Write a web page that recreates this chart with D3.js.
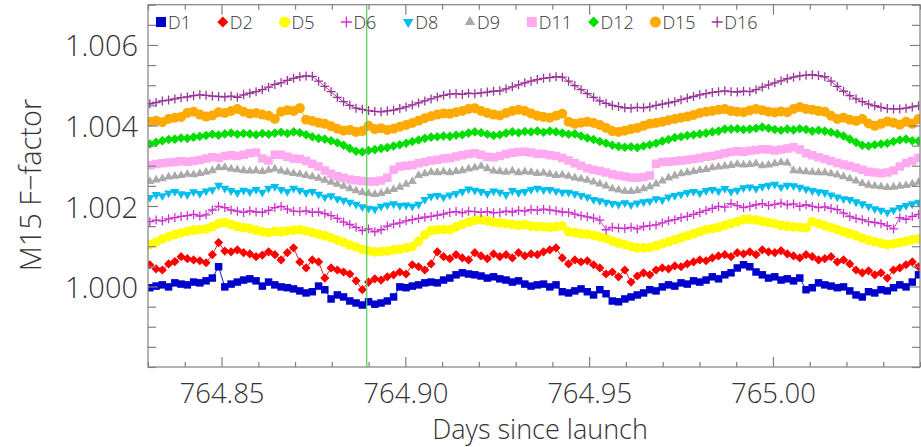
<!DOCTYPE html>
<html>
<head>
<meta charset="utf-8">
<script src="https://cdn.jsdelivr.net/npm/d3@7"></script>
<style>
  html, body { margin: 0; padding: 0; background: #ffffff; }
  svg { display: block; }
  text { font-family: "Open Sans", "Liberation Sans", Arial, sans-serif; font-weight: 300; fill: #333333; }
</style>
</head>
<body>
<svg id="chart" width="921" height="447"></svg>
<script>
// Sampling of the detector series: first sample time and cadence (days)
const t0 = 764.8305;
const cadence = 0.0017;

// M15 F-factor per detector
const D1 = [0.99997,1.00001,1.00004,0.99999,1.00009,1.00006,1.00004,1.00011,1.00009,1.00014,
  1.00021,1.00049,0.99999,1.00006,1.00011,1.00016,1.00019,1.00014,1.00001,1.00011,
  1.00004,0.99999,0.99997,0.99994,0.99989,0.99984,0.99987,1.00001,0.99992,0.99969,
  0.99979,0.99974,0.99964,0.99959,0.99954,0.99962,0.99956,0.99959,0.99964,0.99974,
  0.99999,0.99997,1.00001,1.00004,1.00009,1.00011,1.00009,1.00016,1.00021,1.00029,
  1.00034,1.00031,1.00029,1.00026,1.00021,1.00024,1.00019,1.00016,1.00011,1.00014,
  1.00006,1.00001,1.00004,1.00006,0.99999,1.00004,0.99987,0.99984,0.99989,0.99994,
  0.99987,0.99979,0.99992,0.99982,0.99964,0.99962,0.99969,0.99974,0.99979,0.99984,
  0.99992,0.99989,0.99999,1.00004,1.00001,1.00009,1.00006,1.00014,1.00011,1.00016,
  1.00024,1.00019,1.00029,1.00034,1.00046,1.00054,1.00049,1.00036,1.00029,1.00021,
  1.00024,1.00016,1.00019,1.00014,1.00021,0.99992,0.99997,1.00009,1.00004,1.00001,
  0.99997,0.99999,0.99989,0.99979,0.99974,0.99987,0.99984,0.99992,0.99989,0.99997,
  1.00004,0.99999,1.00011,1.00029];

const D2 = [1.00054,1.00044,1.00041,1.00056,1.00062,1.00074,1.00069,1.00066,1.00064,1.00059,
  1.00079,1.00109,1.00088,1.00086,1.00091,1.00084,1.00081,1.00074,1.00078,1.00086,
  1.00079,1.00066,1.00084,1.00096,1.00061,1.00046,1.00066,1.00061,1.00021,1.00046,
  1.00041,1.00036,1.00031,1.00014,0.99992,1.00011,1.00019,1.00016,1.00024,1.00029,
  1.00036,1.00031,1.00054,1.00049,1.00041,1.00056,1.00086,1.00074,1.00069,1.00079,
  1.00071,1.00066,1.00084,1.00076,1.00069,1.00081,1.00074,1.00079,1.00071,1.00084,
  1.00076,1.00081,1.00079,1.00086,1.00091,1.00096,1.00071,1.00056,1.00066,1.00061,
  1.00064,1.00054,1.00046,1.00031,1.00036,1.00024,1.00041,1.00011,1.00026,1.00034,
  1.00029,1.00041,1.00046,1.00044,1.00051,1.00049,1.00056,1.00061,1.00066,1.00064,
  1.00071,1.00076,1.00079,1.00074,1.00084,1.00081,1.00086,1.00079,1.00091,1.00086,
  1.00084,1.00089,1.00081,1.00076,1.00071,1.00079,1.00074,1.00066,1.00069,1.00074,
  1.00061,1.00066,1.00056,1.00041,1.00034,1.00039,1.00029,1.00034,1.00021,1.00041,
  1.00046,1.00054,1.00061,1.00049];

const D5 = [1.00104,1.00110,1.00118,1.00124,1.00129,1.00133,1.00137,1.00140,1.00141,1.00143,
  1.00148,1.00156,1.00159,1.00154,1.00149,1.00146,1.00144,1.00140,1.00136,1.00134,
  1.00137,1.00136,1.00138,1.00140,1.00141,1.00138,1.00134,1.00130,1.00126,1.00121,
  1.00115,1.00110,1.00103,1.00098,1.00092,1.00088,1.00086,1.00087,1.00088,1.00091,
  1.00093,1.00096,1.00099,1.00112,1.00128,1.00139,1.00141,1.00142,1.00141,1.00148,
  1.00154,1.00160,1.00164,1.00166,1.00163,1.00160,1.00158,1.00156,1.00154,1.00152,
  1.00154,1.00150,1.00149,1.00148,1.00147,1.00149,1.00150,1.00136,1.00134,1.00131,
  1.00130,1.00127,1.00123,1.00119,1.00113,1.00108,1.00104,1.00099,1.00096,1.00096,
  1.00097,1.00101,1.00106,1.00111,1.00116,1.00121,1.00126,1.00131,1.00136,1.00141,
  1.00144,1.00147,1.00152,1.00156,1.00161,1.00166,1.00167,1.00165,1.00162,1.00159,
  1.00156,1.00152,1.00150,1.00148,1.00147,1.00146,1.00161,1.00156,1.00151,1.00146,
  1.00141,1.00136,1.00131,1.00126,1.00120,1.00115,1.00111,1.00107,1.00104,1.00106,
  1.00109,1.00112,1.00116,1.00118];

const D6 = [1.00161,1.00165,1.00163,1.00168,1.00171,1.00174,1.00176,1.00179,1.00175,1.00178,
  1.00190,1.00199,1.00196,1.00190,1.00187,1.00184,1.00188,1.00185,1.00184,1.00189,
  1.00196,1.00199,1.00192,1.00187,1.00186,1.00188,1.00184,1.00185,1.00181,1.00176,
  1.00169,1.00160,1.00154,1.00147,1.00139,1.00143,1.00136,1.00141,1.00150,1.00155,
  1.00158,1.00163,1.00166,1.00169,1.00172,1.00174,1.00177,1.00180,1.00184,1.00186,
  1.00183,1.00187,1.00186,1.00184,1.00186,1.00183,1.00184,1.00187,1.00185,1.00189,
  1.00187,1.00191,1.00189,1.00192,1.00190,1.00188,1.00185,1.00184,1.00180,1.00176,
  1.00173,1.00170,1.00165,1.00141,1.00147,1.00145,1.00144,1.00147,1.00143,1.00149,
  1.00151,1.00153,1.00158,1.00163,1.00166,1.00171,1.00174,1.00179,1.00184,1.00189,
  1.00194,1.00199,1.00197,1.00206,1.00201,1.00196,1.00199,1.00203,1.00206,1.00201,
  1.00204,1.00207,1.00203,1.00205,1.00199,1.00203,1.00199,1.00196,1.00198,1.00194,
  1.00191,1.00182,1.00174,1.00169,1.00166,1.00161,1.00159,1.00156,1.00151,1.00143,
  1.00171,1.00167,1.00174,1.00179];

const D8 = [1.00221,1.00228,1.00225,1.00232,1.00236,1.00230,1.00228,1.00235,1.00231,1.00237,
  1.00240,1.00251,1.00244,1.00238,1.00233,1.00239,1.00235,1.00241,1.00234,1.00244,
  1.00248,1.00241,1.00236,1.00244,1.00239,1.00233,1.00236,1.00229,1.00222,1.00225,
  1.00218,1.00214,1.00209,1.00204,1.00198,1.00194,1.00192,1.00199,1.00202,1.00205,
  1.00201,1.00202,1.00199,1.00204,1.00216,1.00224,1.00226,1.00222,1.00227,1.00231,
  1.00236,1.00242,1.00239,1.00236,1.00231,1.00237,1.00234,1.00228,1.00238,1.00233,
  1.00236,1.00241,1.00244,1.00240,1.00241,1.00237,1.00234,1.00234,1.00230,1.00226,
  1.00222,1.00216,1.00213,1.00209,1.00206,1.00204,1.00208,1.00203,1.00207,1.00210,
  1.00212,1.00218,1.00215,1.00222,1.00226,1.00229,1.00233,1.00236,1.00232,1.00238,
  1.00241,1.00237,1.00243,1.00236,1.00239,1.00245,1.00247,1.00243,1.00248,1.00251,
  1.00254,1.00247,1.00251,1.00250,1.00246,1.00242,1.00238,1.00235,1.00233,1.00227,
  1.00222,1.00218,1.00216,1.00210,1.00205,1.00199,1.00193,1.00189,1.00184,1.00190,
  1.00196,1.00201,1.00205,1.00209];

const D9 = [1.00261,1.00265,1.00268,1.00272,1.00274,1.00276,1.00279,1.00278,1.00281,1.00284,
  1.00288,1.00295,1.00296,1.00292,1.00290,1.00288,1.00287,1.00288,1.00286,1.00289,
  1.00292,1.00287,1.00284,1.00281,1.00279,1.00276,1.00273,1.00269,1.00264,1.00259,
  1.00254,1.00249,1.00243,1.00238,1.00234,1.00231,1.00229,1.00231,1.00236,1.00241,
  1.00247,1.00254,1.00261,1.00276,1.00280,1.00284,1.00283,1.00285,1.00283,1.00286,
  1.00288,1.00292,1.00295,1.00299,1.00293,1.00287,1.00286,1.00284,1.00287,1.00283,
  1.00285,1.00284,1.00281,1.00282,1.00279,1.00276,1.00277,1.00274,1.00270,1.00267,
  1.00264,1.00260,1.00255,1.00250,1.00243,1.00240,1.00237,1.00236,1.00238,1.00243,
  1.00248,1.00255,1.00262,1.00270,1.00275,1.00280,1.00283,1.00286,1.00289,1.00291,
  1.00295,1.00297,1.00299,1.00301,1.00304,1.00302,1.00303,1.00305,1.00300,1.00302,
  1.00305,1.00308,1.00307,1.00288,1.00287,1.00285,1.00284,1.00283,1.00283,1.00280,
  1.00277,1.00273,1.00268,1.00262,1.00256,1.00252,1.00250,1.00248,1.00246,1.00247,
  1.00249,1.00251,1.00255,1.00259];

const D11 = [1.00301,1.00304,1.00306,1.00308,1.00309,1.00311,1.00310,1.00312,1.00314,1.00318,
  1.00321,1.00320,1.00324,1.00326,1.00324,1.00327,1.00331,1.00333,1.00318,1.00313,
  1.00327,1.00327,1.00322,1.00318,1.00317,1.00312,1.00305,1.00298,1.00288,1.00280,
  1.00274,1.00270,1.00266,1.00264,1.00262,1.00261,1.00261,1.00263,1.00270,1.00290,
  1.00298,1.00300,1.00302,1.00306,1.00309,1.00313,1.00315,1.00318,1.00319,1.00323,
  1.00326,1.00329,1.00331,1.00327,1.00322,1.00321,1.00324,1.00329,1.00332,1.00334,
  1.00335,1.00333,1.00330,1.00329,1.00326,1.00324,1.00319,1.00313,1.00306,1.00300,
  1.00294,1.00290,1.00287,1.00283,1.00279,1.00276,1.00273,1.00271,1.00270,1.00272,
  1.00276,1.00305,1.00309,1.00310,1.00311,1.00313,1.00315,1.00317,1.00319,1.00322,
  1.00324,1.00327,1.00331,1.00334,1.00336,1.00335,1.00337,1.00339,1.00341,1.00340,
  1.00338,1.00340,1.00343,1.00346,1.00340,1.00331,1.00326,1.00321,1.00317,1.00312,
  1.00307,1.00303,1.00299,1.00295,1.00290,1.00285,1.00283,1.00281,1.00283,1.00288,
  1.00298,1.00307,1.00312,1.00319];

const D12 = [1.00354,1.00358,1.00362,1.00365,1.00366,1.00369,1.00368,1.00371,1.00373,1.00375,
  1.00378,1.00376,1.00379,1.00381,1.00378,1.00380,1.00379,1.00377,1.00380,1.00378,
  1.00381,1.00383,1.00380,1.00384,1.00382,1.00377,1.00372,1.00368,1.00366,1.00362,
  1.00357,1.00351,1.00343,1.00336,1.00334,1.00338,1.00340,1.00343,1.00345,1.00349,
  1.00352,1.00356,1.00360,1.00364,1.00368,1.00371,1.00372,1.00374,1.00373,1.00376,
  1.00377,1.00381,1.00384,1.00382,1.00378,1.00375,1.00377,1.00381,1.00384,1.00382,
  1.00385,1.00384,1.00386,1.00383,1.00386,1.00384,1.00381,1.00378,1.00379,1.00374,
  1.00369,1.00365,1.00360,1.00356,1.00351,1.00348,1.00346,1.00347,1.00345,1.00349,
  1.00352,1.00356,1.00361,1.00365,1.00370,1.00372,1.00375,1.00377,1.00379,1.00381,
  1.00384,1.00386,1.00391,1.00391,1.00392,1.00390,1.00391,1.00393,1.00396,1.00393,
  1.00390,1.00388,1.00391,1.00389,1.00392,1.00390,1.00386,1.00388,1.00386,1.00383,
  1.00379,1.00374,1.00366,1.00358,1.00351,1.00349,1.00352,1.00354,1.00356,1.00360,
  1.00364,1.00366,1.00362,1.00361];

const D15 = [1.00409,1.00412,1.00408,1.00416,1.00419,1.00421,1.00431,1.00434,1.00427,1.00422,
  1.00425,1.00433,1.00431,1.00436,1.00441,1.00434,1.00429,1.00431,1.00427,1.00424,
  1.00416,1.00434,1.00438,1.00436,1.00443,1.00414,1.00411,1.00407,1.00404,1.00398,
  1.00392,1.00387,1.00389,1.00384,1.00386,1.00399,1.00391,1.00393,1.00389,1.00392,
  1.00397,1.00401,1.00406,1.00412,1.00418,1.00423,1.00427,1.00430,1.00429,1.00433,
  1.00436,1.00441,1.00443,1.00436,1.00431,1.00427,1.00425,1.00431,1.00436,1.00439,
  1.00436,1.00430,1.00424,1.00421,1.00419,1.00424,1.00429,1.00409,1.00404,1.00407,
  1.00409,1.00406,1.00401,1.00394,1.00386,1.00384,1.00387,1.00391,1.00394,1.00399,
  1.00404,1.00406,1.00409,1.00413,1.00416,1.00419,1.00422,1.00426,1.00431,1.00434,
  1.00436,1.00439,1.00441,1.00436,1.00434,1.00433,1.00437,1.00441,1.00438,1.00434,
  1.00432,1.00435,1.00433,1.00441,1.00446,1.00441,1.00439,1.00436,1.00434,1.00424,
  1.00416,1.00419,1.00414,1.00411,1.00416,1.00405,1.00399,1.00404,1.00410,1.00407,
  1.00402,1.00409,1.00404,1.00416];

const D16 = [1.00454,1.00457,1.00461,1.00463,1.00466,1.00469,1.00471,1.00474,1.00476,1.00475,
  1.00473,1.00472,1.00471,1.00473,1.00470,1.00476,1.00480,1.00484,1.00489,1.00495,
  1.00502,1.00506,1.00512,1.00517,1.00521,1.00523,1.00522,1.00510,1.00497,1.00484,
  1.00470,1.00459,1.00450,1.00443,1.00440,1.00437,1.00435,1.00434,1.00436,1.00438,
  1.00442,1.00446,1.00451,1.00456,1.00461,1.00466,1.00471,1.00475,1.00478,1.00479,
  1.00477,1.00480,1.00479,1.00481,1.00483,1.00485,1.00486,1.00491,1.00496,1.00501,
  1.00506,1.00510,1.00514,1.00517,1.00519,1.00521,1.00520,1.00510,1.00499,1.00489,
  1.00479,1.00470,1.00461,1.00455,1.00450,1.00447,1.00444,1.00443,1.00445,1.00444,
  1.00446,1.00450,1.00453,1.00456,1.00459,1.00464,1.00468,1.00472,1.00476,1.00479,
  1.00482,1.00484,1.00486,1.00484,1.00483,1.00485,1.00484,1.00489,1.00495,1.00501,
  1.00506,1.00511,1.00516,1.00520,1.00523,1.00525,1.00526,1.00524,1.00521,1.00510,
  1.00497,1.00485,1.00474,1.00466,1.00459,1.00453,1.00449,1.00445,1.00442,1.00441,
  1.00441,1.00443,1.00446,1.00449];

const detectorNames = ["D1", "D2", "D5", "D6", "D8", "D9", "D11", "D12", "D15", "D16"];
const xTickLabels = [764.85, 764.90, 764.95, 765.00];
const yTickLabels = [1.000, 1.002, 1.004, 1.006];
const eventDay = 764.8895;

// Drawing styles per detector
const styles = {
  D1:  { color: "#0000cc", shape: "square",  size: 7.5 },
  D2:  { color: "#ff0000", shape: "diamond", size: 4.6 },
  D5:  { color: "#ffff00", shape: "circle",  size: 4.8 },
  D6:  { color: "#cc33cc", shape: "plus",    size: 4.5 },
  D8:  { color: "#00bfef", shape: "dtri",    size: 9 },
  D9:  { color: "#aaaaaa", shape: "tri",     size: 9 },
  D11: { color: "#ffaaf0", shape: "square",  size: 8.5 },
  D12: { color: "#00dd00", shape: "diamond", size: 4.8 },
  D15: { color: "#ffaa00", shape: "circle",  size: 5 },
  D16: { color: "#993399", shape: "plus",    size: 4.5 }
};
const valuesByName = { D1, D2, D5, D6, D8, D9, D11, D12, D15, D16 };

const svg = d3.select("#chart");
const margin = { left: 148, right: 920, top: 4.7, bottom: 367 };

const x = d3.scaleLinear().domain([764.83, 765.04]).range([margin.left, margin.right]);
const y = d3.scaleLinear().domain([0.998, 1.007]).range([margin.bottom, margin.top]);

function markerPath(shape, s) {
  if (shape === "square") return `M${-s/2},${-s/2}h${s}v${s}h${-s}Z`;
  if (shape === "diamond") return `M0,${-s}L${s},0L0,${s}L${-s},0Z`;
  if (shape === "circle") return d3.symbol(d3.symbolCircle, Math.PI * s * s)();
  if (shape === "plus") return `M${-s},0H${s}M0,${-s}V${s}`;
  if (shape === "tri") { const h = s * 0.866; return `M0,${-h*2/3}L${s/2},${h/3}L${-s/2},${h/3}Z`; }
  if (shape === "dtri") { const h = s * 0.866; return `M0,${h*2/3}L${s/2},${-h/3}L${-s/2},${-h/3}Z`; }
}

// Clip the data to the plot frame
svg.append("defs").append("clipPath").attr("id", "plotClip")
  .append("rect")
  .attr("x", margin.left).attr("y", margin.top)
  .attr("width", margin.right - margin.left)
  .attr("height", margin.bottom - margin.top);

const plot = svg.append("g").attr("clip-path", "url(#plotClip)");

const line = d3.line()
  .x((d, i) => x(t0 + i * cadence))
  .y(d => y(d));

detectorNames.forEach(name => {
  const st = styles[name];
  const vals = valuesByName[name];
  const g = plot.append("g").attr("class", "series-" + name);
  g.append("path")
    .attr("d", line(vals))
    .attr("fill", "none")
    .attr("stroke", st.color)
    .attr("stroke-width", 0.9);
  const isStroke = st.shape === "plus";
  g.selectAll("path.m")
    .data(vals)
    .join("path")
    .attr("class", "m")
    .attr("transform", (d, i) => `translate(${x(t0 + i * cadence)},${y(d)})`)
    .attr("d", markerPath(st.shape, st.size))
    .attr("fill", isStroke ? "none" : st.color)
    .attr("stroke", isStroke ? st.color : "none")
    .attr("stroke-width", isStroke ? 1.3 : 0);
});

// Vertical event marker
plot.append("line")
  .attr("x1", x(eventDay)).attr("x2", x(eventDay))
  .attr("y1", margin.top).attr("y2", margin.bottom)
  .attr("stroke", "#55cc55").attr("stroke-width", 1.2);

// Axes: inward ticks on all four sides
const axisColor = "#808080";
const xMinor = x.ticks(21).filter(v => !xTickLabels.some(t => Math.abs(t - v) < 1e-9));
const yMinor = y.ticks(18).filter(v => !yTickLabels.some(t => Math.abs(t - v) < 1e-9));

function styleAxis(g) {
  g.select(".domain").remove();
  g.selectAll(".tick line").attr("stroke", axisColor).attr("stroke-width", 1.2);
  g.selectAll("text").attr("fill", "#333333").attr("font-size", 27.5)
    .attr("font-family", null);
}

svg.append("g").attr("transform", `translate(0,${margin.bottom})`)
  .call(d3.axisBottom(x).tickValues(xTickLabels).tickSize(-10).tickPadding(16)
    .tickFormat(d3.format(".2f")))
  .call(styleAxis);
svg.append("g").attr("transform", `translate(0,${margin.bottom})`)
  .call(d3.axisBottom(x).tickValues(xMinor).tickSize(-5).tickFormat(""))
  .call(styleAxis);
svg.append("g").attr("transform", `translate(0,${margin.top})`)
  .call(d3.axisTop(x).tickValues(xTickLabels).tickSize(-10).tickFormat(""))
  .call(styleAxis);
svg.append("g").attr("transform", `translate(0,${margin.top})`)
  .call(d3.axisTop(x).tickValues(xMinor).tickSize(-5).tickFormat(""))
  .call(styleAxis);

svg.append("g").attr("transform", `translate(${margin.left},0)`)
  .call(d3.axisLeft(y).tickValues(yTickLabels).tickSize(-10).tickPadding(10)
    .tickFormat(d3.format(".3f")))
  .call(styleAxis)
  .selectAll("text").attr("font-size", 29).attr("dy", "0.38em");
svg.append("g").attr("transform", `translate(${margin.left},0)`)
  .call(d3.axisLeft(y).tickValues(yMinor).tickSize(-8).tickFormat(""))
  .call(styleAxis);
svg.append("g").attr("transform", `translate(${margin.right},0)`)
  .call(d3.axisRight(y).tickValues(yTickLabels).tickSize(-10).tickFormat(""))
  .call(styleAxis);
svg.append("g").attr("transform", `translate(${margin.right},0)`)
  .call(d3.axisRight(y).tickValues(yMinor).tickSize(-8).tickFormat(""))
  .call(styleAxis);

// Frame
svg.append("rect")
  .attr("x", margin.left).attr("y", margin.top)
  .attr("width", margin.right - margin.left)
  .attr("height", margin.bottom - margin.top)
  .attr("fill", "none").attr("stroke", axisColor).attr("stroke-width", 1.2);

// Axis titles
svg.append("text")
  .attr("x", 540).attr("y", 439)
  .attr("text-anchor", "middle")
  .attr("font-size", 27)
  .text("Days since launch");

svg.append("text")
  .attr("transform", "translate(41,185) rotate(-90)")
  .attr("text-anchor", "middle")
  .attr("font-size", 29)
  .text("M15 F\u2212factor");

// Legend along the top of the plot
const legend = svg.append("g");
detectorNames.forEach((name, k) => {
  const st = styles[name];
  const cx = 161 + k * 61.8;
  const isStroke = st.shape === "plus";
  legend.append("path")
    .attr("transform", `translate(${cx},22)`)
    .attr("d", markerPath(st.shape, st.shape === "square" ? 10 : st.shape === "circle" ? 5.5 : st.shape === "plus" ? 5.5 : st.shape === "diamond" ? 5.5 : 10.5))
    .attr("fill", isStroke ? "none" : st.color)
    .attr("stroke", isStroke ? st.color : "none")
    .attr("stroke-width", isStroke ? 1.3 : 0);
  legend.append("text")
    .attr("x", cx + 7).attr("y", 28.5)
    .attr("font-size", 18)
    .text(name);
});
</script>
</body>
</html>
